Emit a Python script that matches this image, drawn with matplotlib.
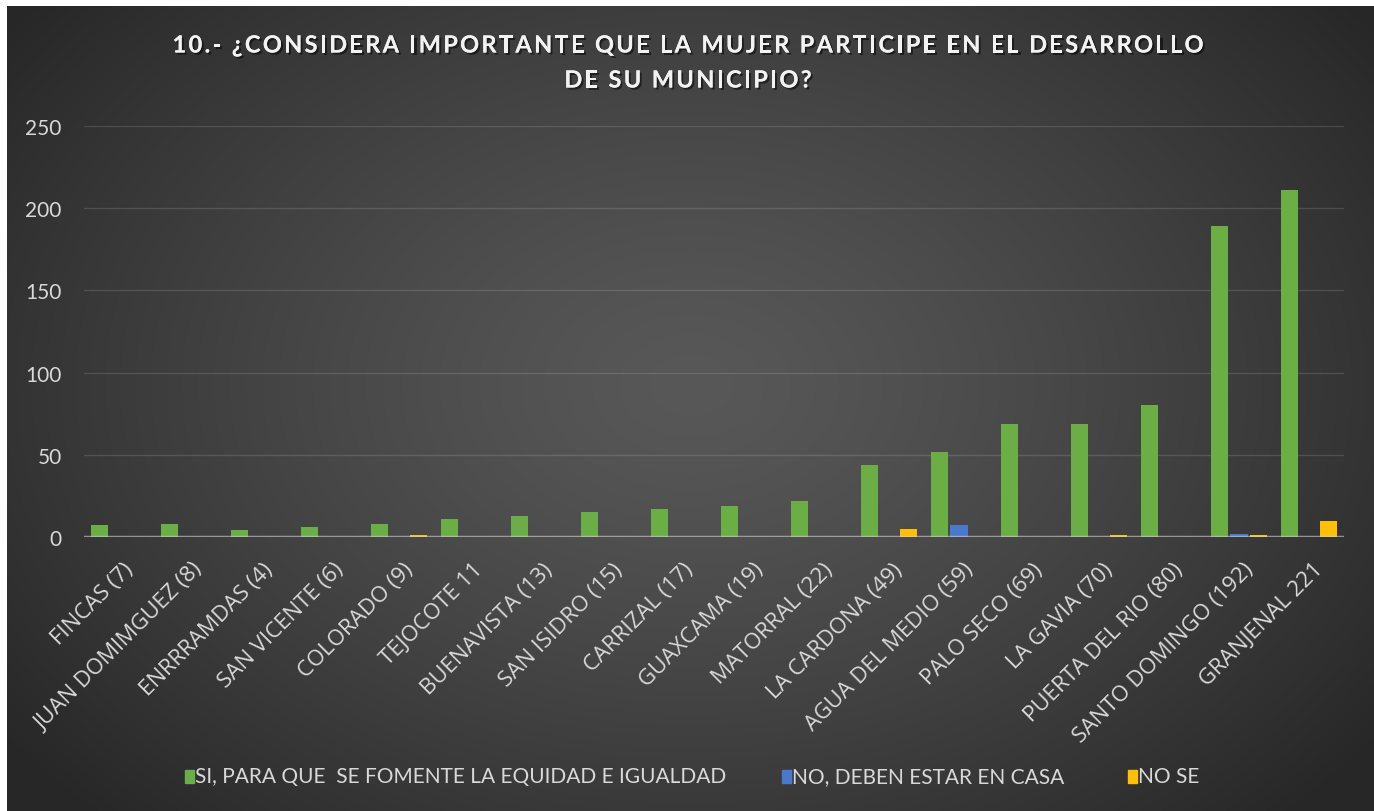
import numpy as np
import matplotlib
matplotlib.use("Agg")
import matplotlib.pyplot as plt
import matplotlib.patheffects as pe
import matplotlib.transforms as mtransforms
from matplotlib.font_manager import FontProperties

categories = ["FINCAS (7)", "JUAN DOMIMGUEZ (8)", "ENRRRAMDAS (4)", "SAN VICENTE (6)",
              "COLORADO (9)", "TEJOCOTE 11", "BUENAVISTA (13)", "SAN ISIDRO (15)",
              "CARRIZAL (17)", "GUAXCAMA (19)", "MATORRAL (22)", "LA CARDONA (49)",
              "AGUA DEL MEDIO (59)", "PALO SECO (69)", "LA GAVIA (70)", "PUERTA DEL RIO (80)",
              "SANTO DOMINGO (192)", "GRANJENAL 221"]
si_values = [7, 8, 4, 6, 8, 11, 13, 15, 17, 19, 22, 44, 52, 69, 69, 80, 189, 211]
no_values = [0, 0, 0, 0, 0, 0, 0, 0, 0, 0, 0, 0, 7, 0, 0, 0, 2, 0]
nose_values = [0, 0, 0, 0, 1, 0, 0, 0, 0, 0, 0, 5, 0, 0, 1, 0, 1, 10]
series_names = ["SI, PARA QUE  SE FOMENTE LA EQUIDAD E IGUALDAD",
                "NO, DEBEN ESTAR EN CASA", "NO SE"]
yticks = [0, 50, 100, 150, 200, 250]
title_lines = ["10.- ¿CONSIDERA IMPORTANTE QUE LA MUJER PARTICIPE EN EL DESARROLLO",
               "DE SU MUNICIPIO?"]

plt.rcParams['font.family'] = ['Lato', 'DejaVu Sans']

W, H = 1374, 812
DPI = 100
fig = plt.figure(figsize=(W / DPI, H / DPI), dpi=DPI, facecolor="white")

# background panel with radial gradient
bg = fig.add_axes([7 / W, 0, (W - 7) / W, (H - 7) / H])
bg.set_axis_off()
ny, nx = 400, 680
yy, xx = np.mgrid[0:ny, 0:nx]
cx, cy = nx * 0.5, ny * 0.47
r = np.sqrt(((xx - cx) / (nx * 0.62)) ** 2 + ((yy - cy) / (ny * 0.75)) ** 2)
r = np.clip(r, 0, 1)
v = 0.345 - (0.345 - 0.155) * r ** 1.3
img = np.dstack([v, v, v])
bg.imshow(img, aspect="auto", extent=[0, 1, 0, 1], interpolation="bicubic")
bg.set_xlim(0, 1)
bg.set_ylim(0, 1)

ax = fig.add_axes([84 / W, 274 / H, 1260 / W, 411 / H])
ax.patch.set_alpha(0)
x = np.arange(len(categories))
w = 0.245
off = 0.28
colors = ["#6aae45", "#4a78cc", "#ffc000"]
for vals, dx, c in zip([si_values, no_values, nose_values], [-off, 0, off], colors):
    ax.bar(x + dx, vals, width=w, color=c, zorder=3)

ax.set_xlim(-0.5, len(categories) - 0.5)
ax.set_ylim(0, 250)
ax.set_yticks(yticks)
ax.grid(axis="y", color="#ffffff", alpha=0.13, linewidth=1, zorder=0)
ax.axhline(0, color="#d0d0d0", alpha=0.6, linewidth=2.5, zorder=4)
for s in ax.spines.values():
    s.set_visible(False)
ax.tick_params(axis="both", length=0, colors="#d9d9d9")
ax.tick_params(axis="y", pad=16, labelsize=15)
ax.set_xticks(x)
ax.set_xticklabels([])

# category labels, rotated 45 degrees, ending just right of each category centre
shift = mtransforms.ScaledTranslation(11 / DPI, -29 / DPI, fig.dpi_scale_trans)
ltrans = ax.get_xaxis_transform() + shift
for xi, name in zip(x, categories):
    ax.text(xi, 0, name, transform=ltrans, rotation=45, ha="right", va="center",
            rotation_mode="anchor", fontsize=16, color="#d9d9d9",
            fontfamily=["Open Sans", "DejaVu Sans"], clip_on=False)

# title with letter spacing
renderer = fig.canvas.get_renderer()
tprop = FontProperties(family=["Lato", "DejaVu Sans"], weight="bold", size=17)
def tw(s):
    return renderer.get_text_width_height_descent(s, tprop, ismath=False)[0]
bar_w = tw("||")
def char_w(c):
    return tw("|" + c + "|") - bar_w
line1_chars = [char_w(c) for c in title_lines[0]]
spacing = (1031 - sum(line1_chars)) / (len(title_lines[0]) - 1)
for line, yc in zip(title_lines, [46, 81]):
    cws = [char_w(c) for c in line]
    total = sum(cws) + spacing * (len(line) - 1)
    xpos = 688 - total / 2
    for c, cw in zip(line, cws):
        if c != " ":
            fig.text(xpos / W, 1 - yc / H, c, ha="left", va="center",
                     fontproperties=tprop, color="#f2f2f2",
                     path_effects=[pe.withSimplePatchShadow(offset=(1.5, -1.5), alpha=0.5,
                                                             shadow_rgbFace="black"),
                                   pe.Normal()])
        xpos += cw + spacing

# legend
leg_x = [185, 782, 1128]
for lx, name, c in zip(leg_x, series_names, colors):
    fig.patches.append(plt.Rectangle((lx / W, (H - 784) / H), 9 / W, 13 / H,
                                     transform=fig.transFigure, color=c, figure=fig))
    fig.text((lx + 10) / W, 1 - 777 / H, name, ha="left", va="center", fontsize=15,
             color="#d9d9d9")

fig.savefig("out.png", dpi=DPI, facecolor="white")
